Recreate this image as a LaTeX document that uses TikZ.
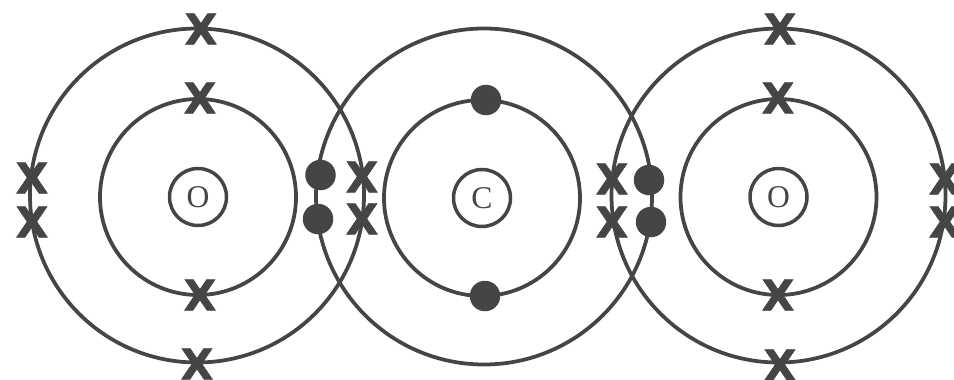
\documentclass[tikz,border=0pt]{standalone}
\usepackage{fontspec}
\setmainfont{Liberation Serif}
\newfontfamily\croixfont[BoldFeatures={FakeBold=1.5}]{DejaVu Sans}
\usepackage{tikz}
\usetikzlibrary{positioning}
\definecolor{encre}{gray}{0.27}

\begin{document}
\begin{tikzpicture}[
  couche/.style={circle, draw=encre, line width=0.075cm, inner sep=0pt},
  noyau/.style={circle, draw=encre, line width=0.07cm, inner sep=0pt, minimum size=1.14cm, text=encre, font=\fontsize{18}{18}\selectfont},
  croix/.style={inner sep=0pt, text=encre, font=\croixfont\bfseries\fontsize{24}{24}\selectfont},
  point/.style={circle, fill=encre, inner sep=0pt, minimum size=0.61cm}
]
  \useasboundingbox (0,0) rectangle (19.08,7.58);
  % Couches externes
  \node[couche, minimum size=6.68cm] (extA) at (3.94,3.67) {};
  \node[couche, minimum size=6.72cm] (extC) at (9.68,3.65) {};
  \node[couche, minimum size=6.68cm] (extB) at (15.57,3.67) {};
  % Couches internes
  \node[couche, minimum size=3.92cm] (intA) at (3.96,3.64) {};
  \node[couche, minimum size=3.92cm] (intC) at (9.64,3.62) {};
  \node[couche, minimum size=3.92cm] (intB) at (15.57,3.64) {};
  % Noyaux
  \node[noyau] (noyA) at (intA) {O};
  \node[noyau] (noyC) at (intC) {C};
  \node[noyau] (noyB) at (intB) {O};
  % Electrons croix
  \foreach \nom/\x/\y in {a1/4.02/7.00, a2/4.00/5.62, a3/4.00/1.68, a4/3.94/0.30,
                          a5/0.64/4.02, a6/0.64/3.14, a7/7.24/4.04, a8/7.24/3.20,
                          b1/12.24/4.00, b2/12.24/3.14, b3/15.60/7.00, b4/15.56/5.62,
                          b5/15.56/1.68, b6/15.60/0.28, b7/18.90/4.00, b8/18.90/3.14}
    \node[croix] (\nom) at (\x,\y) {X};
  % Electrons points
  \foreach \nom/\x/\y in {c1/6.41/4.08, c2/6.36/3.20, c3/9.72/5.58, c4/9.70/1.66,
                          c5/12.98/3.98, c6/13.02/3.14}
    \node[point] (\nom) at (\x,\y) {};
\end{tikzpicture}
\end{document}
